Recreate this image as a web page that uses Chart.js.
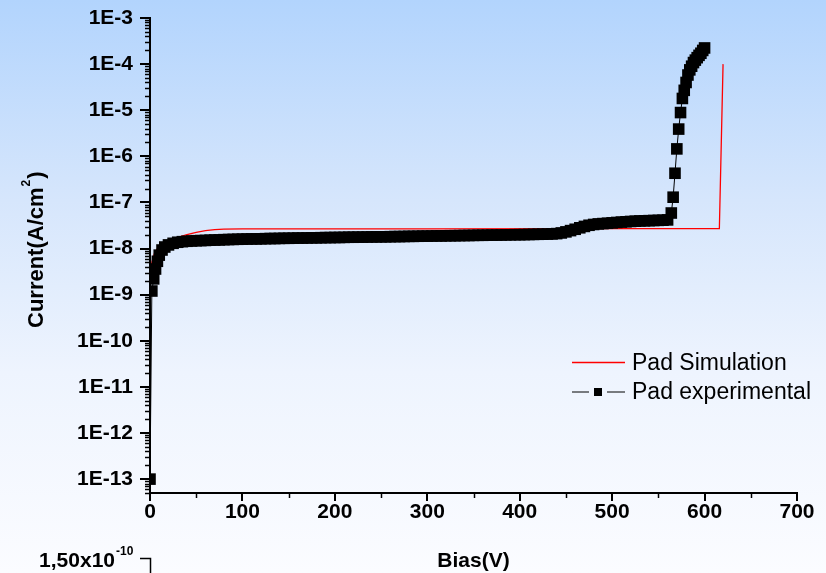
<!DOCTYPE html>
<html><head><meta charset="utf-8">
<script src="https://cdn.jsdelivr.net/npm/chart.js@4/dist/chart.umd.min.js"></script>
<style>
html,body{margin:0;padding:0;}
body{width:826px;height:573px;overflow:hidden;background:linear-gradient(to bottom,#b2d4fd 0%,#d6e6fc 35%,#eef4fe 65%,#fbfcff 100%);}
canvas{display:block;}
</style></head><body>
<canvas id="c" width="826" height="573"></canvas>
<script>
// ---- data ----
const seriesNames = ['Pad Simulation', 'Pad experimental'];

const simBias    = [0, 2, 5, 10, 20, 30, 40, 50, 60, 70, 80, 100, 300, 500, 616, 620];
const simCurrent = [2.5e-9, 5e-9, 8e-9, 1.15e-8, 1.5e-8, 1.75e-8, 2.0e-8, 2.25e-8, 2.45e-8, 2.57e-8, 2.63e-8, 2.66e-8, 2.68e-8, 2.7e-8, 2.7e-8, 1e-4];

const expBias = [0, 2, 4, 6, 8, 10, 13, 16, 20, 25, 30, 35, 40, 45, 50,
  55, 60, 65, 70, 75, 80, 85, 90, 95, 100,
  105, 110, 115, 120, 125, 130, 135, 140, 145, 150,
  155, 160, 165, 170, 175, 180, 185, 190, 195, 200,
  205, 210, 215, 220, 225, 230, 235, 240, 245, 250,
  255, 260, 265, 270, 275, 280, 285, 290, 295, 300,
  305, 310, 315, 320, 325, 330, 335, 340, 345, 350,
  355, 360, 365, 370, 375, 380, 385, 390, 395, 400,
  405, 410, 415, 420, 425, 430, 435, 440, 445, 450,
  455, 460, 465, 470, 475, 480, 485, 490, 495, 500,
  505, 510, 515, 520, 525, 530, 535, 540, 545, 550, 555, 560,
  564, 566, 568, 570, 572, 574, 576, 578, 580, 582, 584, 586, 588, 590, 592, 594, 596, 598, 600];
const expCurrent = [1e-13, 1.2e-9, 2.2e-9, 3.6e-9, 5.3e-9, 7.2e-9, 9.3e-9, 1.08e-8, 1.2e-8, 1.3e-8, 1.37e-8, 1.41e-8, 1.44e-8, 1.46e-8, 1.48e-8,
  1.49e-8, 1.50e-8, 1.52e-8, 1.53e-8, 1.54e-8, 1.56e-8, 1.57e-8, 1.58e-8, 1.59e-8, 1.60e-8,
  1.61e-8, 1.62e-8, 1.62e-8, 1.63e-8, 1.64e-8, 1.65e-8, 1.65e-8, 1.66e-8, 1.67e-8, 1.67e-8,
  1.68e-8, 1.69e-8, 1.69e-8, 1.70e-8, 1.71e-8, 1.71e-8, 1.72e-8, 1.73e-8, 1.73e-8, 1.74e-8,
  1.74e-8, 1.75e-8, 1.76e-8, 1.76e-8, 1.77e-8, 1.77e-8, 1.78e-8, 1.79e-8, 1.79e-8, 1.80e-8,
  1.80e-8, 1.81e-8, 1.82e-8, 1.82e-8, 1.83e-8, 1.84e-8, 1.84e-8, 1.85e-8, 1.86e-8, 1.86e-8,
  1.87e-8, 1.88e-8, 1.88e-8, 1.89e-8, 1.90e-8, 1.90e-8, 1.91e-8, 1.92e-8, 1.92e-8, 1.93e-8,
  1.94e-8, 1.94e-8, 1.95e-8, 1.96e-8, 1.96e-8, 1.97e-8, 1.98e-8, 1.99e-8, 2.00e-8, 2.00e-8,
  2.01e-8, 2.02e-8, 2.03e-8, 2.04e-8, 2.05e-8, 2.06e-8, 2.08e-8, 2.11e-8, 2.18e-8, 2.30e-8,
  2.45e-8, 2.62e-8, 2.82e-8, 3.02e-8, 3.20e-8, 3.33e-8, 3.42e-8, 3.48e-8, 3.54e-8, 3.61e-8,
  3.68e-8, 3.75e-8, 3.81e-8, 3.87e-8, 3.92e-8, 3.97e-8, 4.00e-8, 4.03e-8, 4.06e-8, 4.09e-8, 4.12e-8, 4.18e-8,
  5.9e-8, 1.3e-7, 4.3e-7, 1.45e-6, 3.9e-6, 8.9e-6, 1.8e-5, 2.7e-5, 4.0e-5, 5.8e-5, 7.5e-5, 9.0e-5, 1.08e-4, 1.22e-4, 1.38e-4, 1.55e-4, 1.72e-4, 1.98e-4, 2.24e-4];

const yTickValues = [1e-13, 1e-12, 1e-11, 1e-10, 1e-9, 1e-8, 1e-7, 1e-6, 1e-5, 1e-4, 1e-3];
const yTickLabels = ['1E-13', '1E-12', '1E-11', '1E-10', '1E-9', '1E-8', '1E-7', '1E-6', '1E-5', '1E-4', '1E-3'];
const xTickValues = [0, 100, 200, 300, 400, 500, 600, 700];
const xMinorTicks = [50, 150, 250, 350, 450, 550, 650];
const yMinorMultipliers = [2, 3, 4, 5, 6, 7, 8, 9];
const xTitle = 'Bias(V)';
const yTitleMain = 'Current(A/cm', yTitleSup = '2', yTitleEnd = ')';
const strayLabel = '1,50x10', strayExp = '-10';

// ---- drawing ----
const FONT = "'Liberation Sans', Arial, Helvetica, sans-serif";

const extras = {
  id: 'extras',
  afterDraw(chart) {
    const ctx = chart.ctx;
    const xs = chart.scales.x, ys = chart.scales.y;
    ctx.save();
    ctx.strokeStyle = '#000';
    ctx.lineWidth = 1.5;
    // minor ticks y
    const yl = xs.left;
    for (let e = -14; e <= -4; e++) {
      yMinorMultipliers.forEach(k => {
        const v = k * Math.pow(10, e);
        if (v < ys.min || v > ys.max) return;
        const p = Math.round(ys.getPixelForValue(v)) + 0.5;
        ctx.beginPath(); ctx.moveTo(yl - 5, p); ctx.lineTo(yl, p); ctx.stroke();
      });
    }
    // minor ticks x
    const xb = ys.bottom;
    xMinorTicks.forEach(v => {
      const p = Math.round(xs.getPixelForValue(v)) + 0.5;
      ctx.beginPath(); ctx.moveTo(p, xb); ctx.lineTo(p, xb + 5); ctx.stroke();
    });

    // axis titles
    ctx.fillStyle = '#000';
    ctx.font = 'bold 21px ' + FONT;
    ctx.textAlign = 'center';
    ctx.textBaseline = 'alphabetic';
    ctx.fillText(xTitle, (xs.left + xs.right) / 2, 567);

    ctx.save();
    ctx.translate(43, 328);
    ctx.rotate(-Math.PI / 2);
    ctx.textAlign = 'left';
    ctx.font = 'bold 22px ' + FONT;
    ctx.fillText(yTitleMain, 0, 0);
    let w = ctx.measureText(yTitleMain).width;
    ctx.font = 'bold 12px ' + FONT;
    ctx.fillText(yTitleSup, w + 1, -13);
    w += ctx.measureText(yTitleSup).width + 2;
    ctx.font = 'bold 22px ' + FONT;
    ctx.fillText(yTitleEnd, w, 0);
    ctx.restore();

    // stray label bottom-left
    ctx.textAlign = 'right';
    ctx.font = 'bold 21px ' + FONT;
    ctx.fillText(strayLabel, 115, 567);
    ctx.textAlign = 'left';
    ctx.font = 'bold 12px ' + FONT;
    ctx.fillText(strayExp, 116, 555);
    ctx.lineWidth = 1.5;
    ctx.beginPath(); ctx.moveTo(140, 558.5); ctx.lineTo(150.5, 558.5); ctx.lineTo(150.5, 573); ctx.stroke();

    // legend
    const dsExp = chart.data.datasets[0], dsSim = chart.data.datasets[1];
    ctx.font = '23px ' + FONT;
    ctx.textAlign = 'left';
    ctx.strokeStyle = dsSim.borderColor; ctx.lineWidth = 1.3;
    ctx.beginPath(); ctx.moveTo(572, 362.5); ctx.lineTo(625, 362.5); ctx.stroke();
    ctx.fillText(dsSim.label, 632, 370);
    ctx.strokeStyle = dsExp.borderColor; ctx.lineWidth = 1;
    ctx.beginPath(); ctx.moveTo(572, 392); ctx.lineTo(589, 392); ctx.moveTo(607, 392); ctx.lineTo(625, 392); ctx.stroke();
    ctx.fillStyle = dsExp.backgroundColor;
    ctx.fillRect(594, 388, 8, 8);
    ctx.fillStyle = '#000';
    ctx.fillText(dsExp.label, 632, 399);
    ctx.restore();
  }
};

new Chart(document.getElementById('c'), {
  type: 'line',
  data: {
    datasets: [
      {
        label: seriesNames[1],
        data: expBias.map((x, i) => ({ x, y: expCurrent[i] })),
        borderColor: '#000000', backgroundColor: '#000000',
        borderWidth: 1, pointStyle: 'rect', pointRadius: 8.2, pointBorderWidth: 0,
        pointHoverRadius: 8.2, tension: 0, order: 0
      },
      {
        label: seriesNames[0],
        data: simBias.map((x, i) => ({ x, y: simCurrent[i] })),
        borderColor: '#ff0000', backgroundColor: '#ff0000',
        borderWidth: 1.3, pointRadius: 0, tension: 0, order: 1
      }
    ]
  },
  options: {
    responsive: false, animation: false,
    layout: { padding: { left: 0, right: 29, top: 18, bottom: 0 } },
    plugins: { legend: { display: false }, tooltip: { enabled: false } },
    scales: {
      x: {
        type: 'linear', min: 0, max: 700,
        afterBuildTicks: s => { s.ticks = xTickValues.map(v => ({ value: v })); },
        afterFit: s => { s.height = 80; s.paddingLeft = 0; s.paddingRight = 0; },
        grid: { display: true, drawOnChartArea: false, drawTicks: true, tickLength: 8, color: '#000', lineWidth: 2 },
        border: { display: true, color: '#000', width: 2 },
        ticks: { color: '#000', font: { family: FONT, size: 21, weight: 'bold', lineHeight: 1 }, padding: 1, maxRotation: 0, autoSkip: false, callback: v => String(v) }
      },
      y: {
        type: 'logarithmic', min: 5e-14, max: 1e-3,
        afterBuildTicks: s => { s.ticks = yTickValues.map(v => ({ value: v })); },
        afterFit: s => { s.width = 150; s.paddingTop = 0; s.paddingBottom = 0; },
        grid: { display: true, drawOnChartArea: false, drawTicks: true, tickLength: 10, color: '#000', lineWidth: 2 },
        border: { display: true, color: '#000', width: 2 },
        ticks: { color: '#000', font: { family: FONT, size: 21, weight: 'bold', lineHeight: 1 }, padding: 7, autoSkip: false,
          callback: v => { const i = yTickValues.findIndex(t => Math.abs(Math.log10(t) - Math.log10(v)) < 1e-6); return i >= 0 ? yTickLabels[i] : ''; } }
      }
    }
  },
  plugins: [extras]
});
</script>
</body></html>
